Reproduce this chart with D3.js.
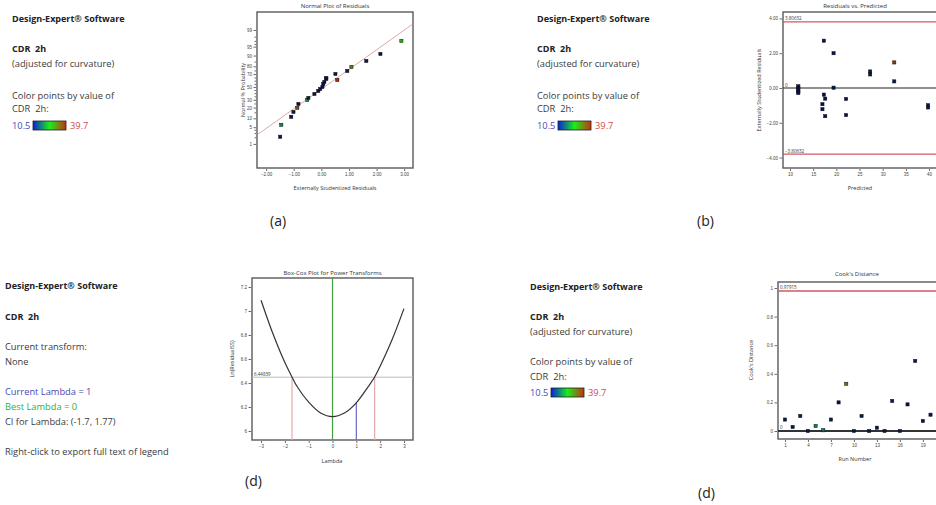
<!DOCTYPE html>
<html>
<head>
<meta charset="utf-8">
<script src="https://cdnjs.cloudflare.com/ajax/libs/d3/7.8.5/d3.min.js"></script>
<style>
  body { margin: 0; background: #fff; }
  svg { display: block; font-family: "Open Sans", "Noto Sans", sans-serif; }
  .tick text { font-size: 4.5px; fill: #444; }
  .tick line, .domain { stroke: #444; }
  .legend text { white-space: pre; }
</style>
</head>
<body>
<svg id="chart" width="936" height="505"></svg>
<script>

// colour legend range (CDR 2h)
const cdrRange = [10.5, 39.7];

// (a) normal plot of residuals
const normResid = [-1.49, -1.45, -1.09, -1.01, -0.87, -0.83, -0.51, -0.47, -0.25, -0.11, -0.04, 0.04,
  0.07, 0.11, 0.18, 0.18, 0.51, 0.58, 0.94, 1.09, 1.63, 2.14, 2.90];
const normPct = [2.1, 6.1, 11.1, 15.4, 19.6, 24.4, 29.8, 32.7, 38.7, 43.5, 46.7, 50.0,
  54.9, 58.1, 62.8, 64.3, 70.2, 61.3, 74.3, 79.3, 85.6, 91.1, 97.0];
const normCdr = [12, 20, 12, 13, 36, 12, 22, 14, 12, 11, 11, 11, 11, 11, 11, 11, 13, 39.7, 13, 31, 13, 12, 26];
const normFitResid = [-2.33, 3.32];
const normFitPct = [2.5, 99.5];
const normPctTicks = [1, 5, 10, 20, 30, 50, 70, 80, 90, 95, 99];
const normPctMinor = [2, 3, 4, 15, 25, 35, 40, 45, 55, 60, 65, 75, 85, 96, 97, 98];
const normXTicks = [-2, -1, 0, 1, 2, 3];

// (b) residuals vs predicted
const predVal = [11.8, 11.8, 11.8, 11.8, 11.8, 17.3, 19.4, 19.4, 17.3, 17.6, 17.0, 17.0, 17.6, 22.1, 22.1,
  27.3, 27.3, 32.5, 32.5, 39.8, 39.8];
const predResid = [0.10, 0.0, -0.10, -0.20, -0.29, 2.72, 2.0, 0.02, -0.38, -0.61, -0.93, -1.22, -1.62, -0.63, -1.56,
  0.95, 0.78, 1.47, 0.38, -0.99, -1.12];
const predCdr = [11, 11, 11, 11, 11, 12, 12, 12, 11, 11, 11, 11, 11, 12, 12, 13, 13, 39, 13, 12, 12];
const predLimit = 3.80632;
const predXTicks = [10, 15, 20, 25, 30, 35, 40];
const predYTicks = [-4, -2, 0, 2, 4];

// (d) Box-Cox plot
const bcLambda = [-3, -2.5, -2, -1.7, -1.5, -1, -0.5, 0, 0.5, 1, 1.5, 1.77, 2, 2.5, 3];
const bcLnRSS = [7.09, 6.81, 6.57, 6.45, 6.375, 6.24, 6.15, 6.12, 6.15, 6.235, 6.37, 6.45, 6.54, 6.76, 7.02];
const bcCI = [-1.7, 1.77];
const bcCurrent = 1;
const bcBest = 0;
const bcLimit = 6.44839;
const bcXTicks = [-3, -2, -1, 0, 1, 2, 3];
const bcYTicks = [6, 6.2, 6.4, 6.6, 6.8, 7, 7.2];

// (d) Cook's distance
const cookRun = [1, 2, 3, 4, 5, 6, 7, 8, 9, 10, 11, 12, 13, 14, 15, 16, 17, 18, 19, 20];
const cookVal = [0.08, 0.028, 0.105, 0.0, 0.035, 0.005, 0.08, 0.2, 0.33, 0.0, 0.105, 0.0, 0.023, 0.0, 0.21, 0.0,
  0.186, 0.49, 0.07, 0.114];
const cookCdr = [13, 12, 13, 12, 20, 18, 13, 12, 31, 12, 13, 12, 12, 12, 13, 12, 12, 13, 11, 12];
const cookLimit = 0.97915;
const cookXTicks = [1, 4, 7, 10, 13, 16, 19];
const cookYTicks = [0, 0.2, 0.4, 0.6, 0.8, 1];

const svg = d3.select('#chart');
svg.append('rect').attr('width', 936).attr('height', 505).attr('fill', '#fff');

const cdrColor = d3.scaleLinear()
  .domain([cdrRange[0], (cdrRange[0] + cdrRange[1]) / 2, cdrRange[1]])
  .range(['#0a20e0', '#18f018', '#c83010']);

function pointFill(v) {
  return d3.color(cdrColor(v)).darker(v < 16 ? 2.6 : 0.6);
}

// inverse normal cdf (Acklam)
function probit(p) {
  const a = [-3.969683028665376e+01, 2.209460984245205e+02, -2.759285104469687e+02, 1.383577518672690e+02, -3.066479806614716e+01, 2.506628277459239e+00];
  const b = [-5.447609879822406e+01, 1.615858368580409e+02, -1.556989798598866e+02, 6.680131188771972e+01, -1.328068155833025e+01];
  const c = [-7.784894002430293e-03, -3.223964580411365e-01, -2.400758277161838e+00, -2.549671743282839e+00, 4.374664141464968e+00, 2.938163982698783e+00];
  const d = [7.784695709041462e-03, 3.224671290700398e-01, 2.445134137142996e+00, 3.754408661907416e+00];
  const pl = 0.02425;
  if (p < pl) {
    const q = Math.sqrt(-2 * Math.log(p));
    return (((((c[0] * q + c[1]) * q + c[2]) * q + c[3]) * q + c[4]) * q + c[5]) / ((((d[0] * q + d[1]) * q + d[2]) * q + d[3]) * q + 1);
  }
  if (p > 1 - pl) {
    const q = Math.sqrt(-2 * Math.log(1 - p));
    return -(((((c[0] * q + c[1]) * q + c[2]) * q + c[3]) * q + c[4]) * q + c[5]) / ((((d[0] * q + d[1]) * q + d[2]) * q + d[3]) * q + 1);
  }
  const q = p - 0.5, r = q * q;
  return (((((a[0] * r + a[1]) * r + a[2]) * r + a[3]) * r + a[4]) * r + a[5]) * q / (((((b[0] * r + b[1]) * r + b[2]) * r + b[3]) * r + b[4]) * r + 1);
}

// ---------- helpers ----------
function legendBlock(x, lines) {
  const g = svg.append('g').attr('class', 'legend');
  lines.forEach(l => {
    g.append('text')
      .attr('x', x).attr('y', l.y)
      .attr('font-size', l.bold ? 9 : 9.3)
      .attr('font-weight', l.bold ? 700 : 400)
      .attr('fill', l.color || (l.bold ? '#222' : '#3a3a3a'))
      .text(l.t);
  });
  return g;
}

let gradN = 0;
function colorBar(x, y) {
  const id = 'grad' + (gradN++);
  const grad = svg.append('defs').append('linearGradient').attr('id', id);
  grad.selectAll('stop').data([0, 0.5, 1]).join('stop')
    .attr('offset', d => d)
    .attr('stop-color', d => cdrColor(cdrRange[0] + d * (cdrRange[1] - cdrRange[0])));
  svg.append('text').attr('x', x).attr('y', y + 7.5).attr('font-size', 9.3).attr('fill', '#4a4ab8').text(cdrRange[0]);
  svg.append('rect').attr('x', x + 21).attr('y', y).attr('width', 33).attr('height', 9)
    .attr('fill', `url(#${id})`).attr('stroke', '#222').attr('stroke-width', 0.8);
  svg.append('text').attr('x', x + 58).attr('y', y + 7.5).attr('font-size', 9.3).attr('fill', '#d04848').text(cdrRange[1]);
}

function frame(x0, y0, x1, y1) {
  svg.append('rect').attr('x', x0).attr('y', y0).attr('width', x1 - x0).attr('height', y1 - y0)
    .attr('fill', 'none').attr('stroke', '#5a5a5a').attr('stroke-width', 1.4);
}

function plotText(x, y, t, size, rotate) {
  const el = svg.append('text').attr('text-anchor', 'middle').attr('font-size', size).attr('fill', '#333').text(t);
  if (rotate) el.attr('transform', `translate(${x},${y}) rotate(-90)`);
  else el.attr('x', x).attr('y', y);
  return el;
}

function styleAxis(g) {
  g.select('.domain').remove();
  g.selectAll('.tick line').attr('stroke-width', 0.8);
}

function drawPoints(data, xs, ys) {
  svg.append('g').selectAll('rect').data(data).join('rect')
    .attr('x', d => xs(d.x) - 1.6).attr('y', d => ys(d.y) - 1.6)
    .attr('width', 3.2).attr('height', 3.2)
    .attr('fill', d => pointFill(d.c))
    .attr('stroke', '#111').attr('stroke-width', 0.5);
}

// ---------- legends ----------
legendBlock(12, [
  { t: 'Design-Expert® Software', y: 22, bold: true },
  { t: 'CDR  2h', y: 52, bold: true },
  { t: '(adjusted for curvature)', y: 67 },
  { t: 'Color points by value of', y: 99 },
  { t: 'CDR  2h:', y: 112 },
]);
colorBar(12, 121);

legendBlock(537, [
  { t: 'Design-Expert® Software', y: 22, bold: true },
  { t: 'CDR  2h', y: 52, bold: true },
  { t: '(adjusted for curvature)', y: 67 },
  { t: 'Color points by value of', y: 99 },
  { t: 'CDR  2h:', y: 112 },
]);
colorBar(537, 121);

legendBlock(5, [
  { t: 'Design-Expert® Software', y: 289, bold: true },
  { t: 'CDR  2h', y: 320, bold: true },
  { t: 'Current transform:', y: 350 },
  { t: 'None', y: 365 },
  { t: 'Current Lambda = 1', y: 395, color: '#4848b0' },
  { t: 'Best Lambda = 0', y: 410, color: '#30b030' },
  { t: 'CI for Lambda: (-1.7, 1.77)', y: 425 },
  { t: 'Right-click to export full text of legend', y: 455 },
]);

legendBlock(530, [
  { t: 'Design-Expert® Software', y: 290, bold: true },
  { t: 'CDR  2h', y: 320, bold: true },
  { t: '(adjusted for curvature)', y: 335 },
  { t: 'Color points by value of', y: 365 },
  { t: 'CDR  2h:', y: 380 },
]);
colorBar(530, 388);

// ---------- (a) normal plot ----------
{
  const x0 = 257, x1 = 413, y0 = 12, y1 = 168;
  const x = d3.scaleLinear().domain([-2.33, 3.32]).range([x0, x1]);
  const z = d3.scaleLinear().domain([-3.31, 3.06]).range([y1, y0]);
  const y = p => z(probit(p / 100));

  plotText((x0 + x1) / 2, 8, 'Normal Plot of Residuals', 6);
  plotText((x0 + x1) / 2, 190, 'Externally Studentized Residuals', 5.5);
  plotText(245, (y0 + y1) / 2, 'Normal % Probability', 5.5, true);

  svg.append('g').attr('transform', `translate(0,${y1 + 1})`)
    .call(d3.axisBottom(x).tickValues(normXTicks).tickSize(2).tickPadding(1.5).tickFormat(d3.format('.2f')))
    .call(styleAxis);
  svg.append('g').attr('transform', `translate(${x0 - 1},0)`)
    .call(d3.axisLeft(z).tickValues(normPctTicks.map(p => probit(p / 100))).tickSize(2.5).tickPadding(1.5)
      .tickFormat((d, i) => normPctTicks[i]))
    .call(styleAxis);
  svg.append('g').attr('transform', `translate(${x0 - 1},0)`)
    .call(d3.axisLeft(z).tickValues(normPctMinor.map(p => probit(p / 100))).tickSize(1.5).tickFormat(''))
    .call(styleAxis);

  frame(x0, y0, x1, y1);

  svg.append('line')
    .attr('x1', x(normFitResid[0])).attr('y1', y(normFitPct[0]))
    .attr('x2', x(normFitResid[1])).attr('y2', y(normFitPct[1]))
    .attr('stroke', '#d89090').attr('stroke-width', 0.8);

  drawPoints(normResid.map((r, i) => ({ x: r, y: normPct[i], c: normCdr[i] })), x, y);
}

// ---------- (b) residuals vs predicted ----------
{
  const x0 = 783, x1 = 942, y0 = 12, y1 = 168;
  const x = d3.scaleLinear().domain([8.49, 42.8]).range([x0, x1]);
  const y = d3.scaleLinear().domain([-4.6, 4.37]).range([y1, y0]);

  plotText(855, 8, 'Residuals vs. Predicted', 6);
  plotText(860, 190, 'Predicted', 5.5);
  plotText(761, (y0 + y1) / 2, 'Externally Studentized Residuals', 5.5, true);

  svg.append('g').attr('transform', `translate(0,${y1 + 1})`)
    .call(d3.axisBottom(x).tickValues(predXTicks).tickSize(2).tickPadding(1.5))
    .call(styleAxis);
  svg.append('g').attr('transform', `translate(${x0 - 1},0)`)
    .call(d3.axisLeft(y).tickValues(predYTicks).tickSize(2.5).tickPadding(1.5).tickFormat(d3.format('.2f')))
    .call(styleAxis);

  frame(x0, y0, x1, y1);

  [predLimit, -predLimit].forEach(v => {
    svg.append('line').attr('x1', x0).attr('x2', x1).attr('y1', y(v)).attr('y2', y(v))
      .attr('stroke', '#d05868').attr('stroke-width', 1.3);
    svg.append('text').attr('x', x0 + 2).attr('y', y(v) - 1.5).attr('font-size', 4.5).attr('fill', '#333')
      .text(d3.format('.5f')(v));
  });
  svg.append('line').attr('x1', x0).attr('x2', x1).attr('y1', y(0)).attr('y2', y(0))
    .attr('stroke', '#222').attr('stroke-width', 1.2);
  svg.append('text').attr('x', x0 + 2).attr('y', y(0) - 1.5).attr('font-size', 4.5).attr('fill', '#333').text('0');

  drawPoints(predVal.map((p, i) => ({ x: p, y: predResid[i], c: predCdr[i] })), x, y);
}

// ---------- (d) Box-Cox ----------
{
  const x0 = 252, x1 = 413, y0 = 278, y1 = 440;
  const x = d3.scaleLinear().domain([-3.38, 3.38]).range([x0, x1]);
  const y = d3.scaleLinear().domain([5.925, 7.275]).range([y1, y0]);

  plotText((x0 + x1) / 2, 275, 'Box-Cox Plot for Power Transforms', 6);
  plotText(332, 463, 'Lambda', 5.5);
  plotText(234, (y0 + y1) / 2, 'Ln(ResidualSS)', 5.5, true);

  svg.append('g').attr('transform', `translate(0,${y1 + 1})`)
    .call(d3.axisBottom(x).tickValues(bcXTicks).tickSize(2).tickPadding(1.5).tickFormat(d3.format('d')))
    .call(styleAxis);
  svg.append('g').attr('transform', `translate(${x0 - 1},0)`)
    .call(d3.axisLeft(y).tickValues(bcYTicks).tickSize(2.5).tickPadding(1.5).tickFormat(d3.format('~g')))
    .call(styleAxis);

  frame(x0, y0, x1, y1);

  svg.append('line').attr('x1', x0).attr('x2', x1).attr('y1', y(bcLimit)).attr('y2', y(bcLimit))
    .attr('stroke', '#bbb').attr('stroke-width', 1);
  svg.append('text').attr('x', x0 + 2).attr('y', y(bcLimit) - 1.5).attr('font-size', 4.5).attr('fill', '#333')
    .text(bcLimit);

  const lookup = l => bcLnRSS[bcLambda.indexOf(l)];
  bcCI.forEach(l => {
    svg.append('line').attr('x1', x(l)).attr('x2', x(l)).attr('y1', y1).attr('y2', y(lookup(l)))
      .attr('stroke', '#e8a8a8').attr('stroke-width', 1.2);
  });
  svg.append('line').attr('x1', x(bcCurrent)).attr('x2', x(bcCurrent)).attr('y1', y1).attr('y2', y(lookup(bcCurrent)))
    .attr('stroke', '#6868c0').attr('stroke-width', 1.2);
  svg.append('line').attr('x1', x(bcBest)).attr('x2', x(bcBest)).attr('y1', y1).attr('y2', y0)
    .attr('stroke', '#40a040').attr('stroke-width', 1.2);

  svg.append('path')
    .datum(bcLambda.map((l, i) => [l, bcLnRSS[i]]))
    .attr('fill', 'none').attr('stroke', '#333').attr('stroke-width', 1.2)
    .attr('d', d3.line().curve(d3.curveCatmullRom).x(d => x(d[0])).y(d => y(d[1])));
}

// ---------- (d) Cook's distance ----------
{
  const x0 = 778, x1 = 942, y0 = 282, y1 = 439;
  const x = d3.scaleLinear().domain([0.09, 21.5]).range([x0, x1]);
  const y = d3.scaleLinear().domain([-0.056, 1.042]).range([y1, y0]);

  plotText(857, 276, "Cook's Distance", 6);
  plotText(855, 461, 'Run Number', 5.5);
  plotText(753, 360, "Cook's Distance", 5.5, true);

  svg.append('g').attr('transform', `translate(0,${y1 + 1})`)
    .call(d3.axisBottom(x).tickValues(cookXTicks).tickSize(2).tickPadding(1.5))
    .call(styleAxis);
  svg.append('g').attr('transform', `translate(${x0 - 1},0)`)
    .call(d3.axisLeft(y).tickValues(cookYTicks).tickSize(2.5).tickPadding(1.5).tickFormat(d3.format('~g')))
    .call(styleAxis);

  frame(x0, y0, x1, y1);

  svg.append('line').attr('x1', x0).attr('x2', x1).attr('y1', y(cookLimit)).attr('y2', y(cookLimit))
    .attr('stroke', '#d05868').attr('stroke-width', 1.3);
  svg.append('text').attr('x', x0 + 2).attr('y', y(cookLimit) - 1.5).attr('font-size', 4.5).attr('fill', '#333')
    .text(cookLimit);
  svg.append('line').attr('x1', x0).attr('x2', x1).attr('y1', y(0)).attr('y2', y(0))
    .attr('stroke', '#333').attr('stroke-width', 1.8);
  svg.append('text').attr('x', x0 + 2).attr('y', y(0) - 1.5).attr('font-size', 4.5).attr('fill', '#333').text('0');

  drawPoints(cookRun.map((r, i) => ({ x: r, y: cookVal[i], c: cookCdr[i] })), x, y);
}

// ---------- captions ----------
[['(a)', 270, 226], ['(b)', 697, 226], ['(d)', 245, 486], ['(d)', 698, 498]].forEach(([t, cx, cy]) => {
  svg.append('text').attr('x', cx).attr('y', cy).attr('font-size', 14).attr('fill', '#222').text(t);
});

</script>
</body>
</html>
